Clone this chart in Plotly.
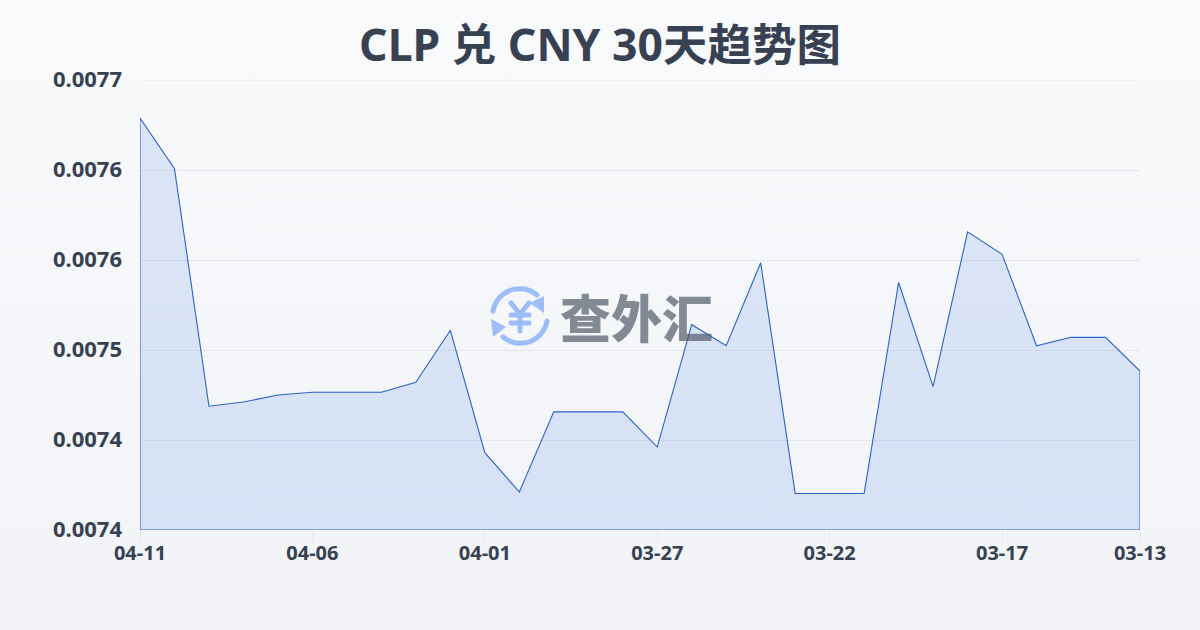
import base64
import plotly.graph_objects as go

TITLE = "CLP 兑 CNY 30天趋势图"
WATERMARK = "查外汇"
dates = ["04-11","04-10","04-09","04-08","04-07","04-06","04-05","04-04","04-03","04-02",
         "04-01","03-31","03-30","03-29","03-28","03-27","03-26","03-25","03-24","03-23",
         "03-22","03-21","03-20","03-19","03-18","03-17","03-16","03-15","03-14","03-13"]
rates = [0.007673,0.007637,0.007468,0.007471,0.007476,0.007478,0.007478,0.007478,0.007485,0.007522,
         0.007435,0.007407,0.007464,0.007464,0.007464,0.007439,0.007526,0.007511,0.007570,0.007406,
         0.007406,0.007406,0.007556,0.007482,0.007592,0.007576,0.007511,0.007517,0.007517,0.007493]
x_ticks = ["04-11","04-06","04-01","03-27","03-22","03-17","03-13"]
y_ticks = [0.00738,0.007444,0.007508,0.007572,0.007636,0.0077]
y_labels = ["0.0074","0.0074","0.0075","0.0076","0.0076","0.0077"]
y_min, y_max = 0.00738, 0.0077
LATIN = "Noto Sans, Noto Sans CJK SC"

def uri(svg):
    return "data:image/svg+xml;base64," + base64.b64encode(svg.encode()).decode()

bg_svg = ('<svg xmlns="http://www.w3.org/2000/svg" width="1200" height="630" preserveAspectRatio="none">'
          '<defs><linearGradient id="g" x1="0" y1="0" x2="0" y2="1"><stop offset="0" stop-color="#f8fafc"/>'
          '<stop offset="1" stop-color="#f1f3f6"/></linearGradient></defs>'
          '<rect width="1200" height="630" fill="url(#g)"/></svg>')
icon_svg = ('<svg xmlns="http://www.w3.org/2000/svg" width="64" height="64" viewBox="0 0 64 64">'
            '<g fill="none" stroke="#9cbdf8" stroke-width="5" stroke-linecap="round" stroke-linejoin="round">'
            '<path d="M5 27 A 27 27 0 0 1 49 11"/><path d="M59 37 A 27 27 0 0 1 15 53"/>'
            '<path d="M23 19 L32 30 L41 19"/><path d="M32 30 V47"/><path d="M23 31 H41"/><path d="M23 39 H41"/></g>'
            '<path d="M56 12 V29 L42 19 Z" fill="#9cbdf8"/><path d="M3 35 L18 43 L5 53 Z" fill="#9cbdf8"/></svg>')

fig = go.Figure()
fig.add_trace(go.Scatter(
    x=dates + [dates[-1], dates[0], dates[0]],
    y=rates + [y_min, y_min, rates[0]],
    mode="lines", fill="toself", fillcolor="rgba(37,99,235,0.13)",
    line=dict(color="#2b62c9", width=1.1), cliponaxis=False, hoverinfo="skip", showlegend=False))

fig.update_layout(
    width=1200, height=630,
    margin=dict(l=140, r=60, t=80, b=100, autoexpand=False),
    paper_bgcolor="#f5f7fa", plot_bgcolor="rgba(0,0,0,0)",
    font=dict(family=LATIN, color="#374151"),
    title=dict(text=TITLE, x=0.5, xanchor="center", y=0.928, yanchor="middle",
               font=dict(size=44.5, family=LATIN, weight="bold", color="#374151")),
    xaxis=dict(type="category", categoryorder="array", categoryarray=dates, range=[0, 29],
               tickmode="array", tickvals=x_ticks, ticktext=x_ticks, showgrid=False, zeroline=False,
               ticks="outside", ticklen=10, tickcolor="#e5e7eb", tickwidth=1, showline=False,
               ticklabelstandoff=-5,
               tickfont=dict(size=20, weight="bold", color="#374151")),
    yaxis=dict(range=[y_min, y_max], tickmode="array", tickvals=y_ticks, ticktext=y_labels,
               showgrid=True, gridcolor="#e5e7eb", gridwidth=1, zeroline=False, showline=False,
               ticks="", ticklabelstandoff=17, ticklabelshift=-1,
               tickfont=dict(size=22, weight="bold", color="#374151")),
    shapes=[dict(type="line", xref="paper", x0=0, x1=1, yref="y", y0=y_max, y1=y_max,
                 line=dict(color="#e5e7eb", width=1), layer="below")],
    images=[
        dict(source=uri(bg_svg), xref="paper", yref="paper", x=-0.14, y=530/450, sizex=1.2, sizey=1.4,
             xanchor="left", yanchor="top", sizing="stretch", layer="below"),
        dict(source=uri(icon_svg), xref="paper", yref="paper", x=(488-140)/1000, y=(530-284)/450,
             sizex=0.064, sizey=64/450, xanchor="left", yanchor="top", sizing="stretch", layer="below"),
    ],
    annotations=[dict(text=WATERMARK, xref="paper", yref="paper", x=(636-140)/1000, y=(530-316)/450,
                      xanchor="center", yanchor="middle", showarrow=False,
                      font=dict(size=51, family="Noto Sans CJK SC", weight=900, color="rgba(75,85,99,0.68)"))],
)
fig.write_html("out.html", config={"displayModeBar": False},
               post_script="document.body.style.margin='0';document.body.style.overflow='hidden';")
